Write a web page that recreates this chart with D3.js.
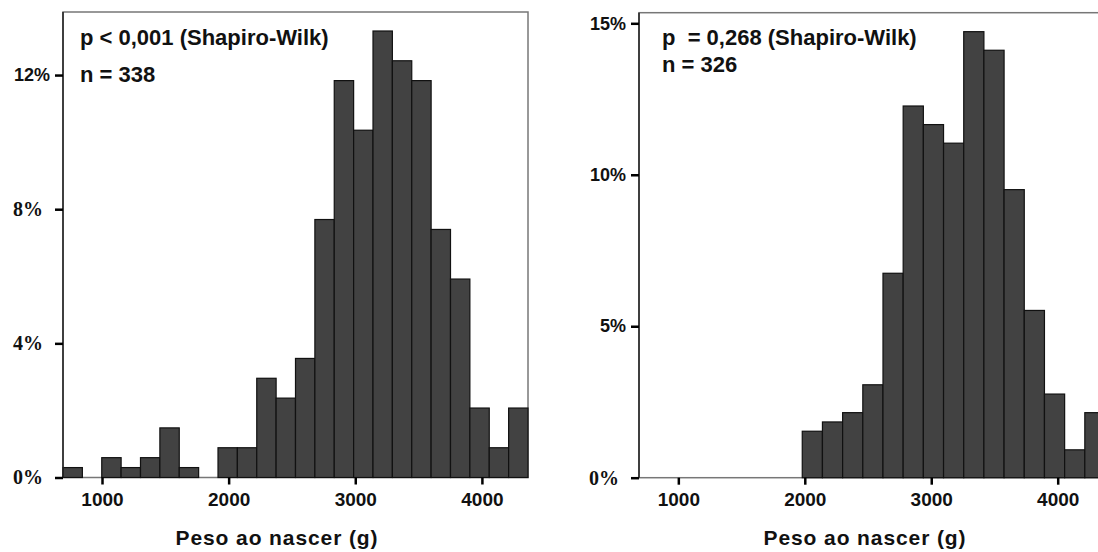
<!DOCTYPE html>
<html>
<head>
<meta charset="utf-8">
<script src="https://cdn.jsdelivr.net/npm/d3@7"></script>
<style>
  body { margin: 0; background: #fff; }
  text { font-family: "Liberation Sans", Arial, sans-serif; }
</style>
</head>
<body>
<svg width="1098" height="552"></svg>
<script>
// Data (counts per bin)
var leftCounts = [1, 0, 2, 1, 2, 5, 1, 0, 3, 3, 10, 8, 12, 26, 40, 35, 45, 42, 40, 25, 20, 7, 3, 7];
var leftN = 338;
var leftBinStart = 692, leftBinWidth = 153;
var leftPText = "p < 0,001 (Shapiro-Wilk)";
var leftNText = "n = 338";
var leftYTicks = [0, 4, 8, 12];

var rightCounts = [5, 6, 7, 10, 22, 40, 38, 36, 48, 46, 31, 18, 9, 3, 7];
var rightN = 326;
var rightBinStart = 1980, rightBinWidth = 159.6;
var rightPText = "p  = 0,268 (Shapiro-Wilk)";
var rightNText = "n = 326";
var rightYTicks = [0, 5, 10, 15];

var xTicks = [1000, 2000, 3000, 4000];
var xLabel = "Peso ao nascer (g)";

var svg = d3.select("svg");

function panel(opt) {
    var g = svg.append("g");

    var x = d3.scaleLinear().domain(opt.xDomain).range([opt.left, opt.right]);
    var y = d3.scaleLinear().domain(opt.yDomain).range([opt.bottom, opt.top]);

    var bins = opt.counts.map(function (c, i) {
        return { x0: opt.binStart + i * opt.binWidth, x1: opt.binStart + (i + 1) * opt.binWidth, pct: c / opt.n * 100 };
    });

    // frame
    g.append("rect")
        .attr("x", opt.left).attr("y", opt.top)
        .attr("width", opt.right - opt.left).attr("height", opt.bottom - opt.top)
        .attr("fill", "none").attr("stroke", "#777").attr("stroke-width", 1.5);

    // bars
    g.selectAll("rect.bar")
        .data(bins.filter(function (d) { return d.pct > 0; }))
        .enter().append("rect")
        .attr("class", "bar")
        .attr("x", function (d) { return x(d.x0); })
        .attr("width", function (d) { return x(d.x1) - x(d.x0); })
        .attr("y", function (d) { return y(d.pct); })
        .attr("height", function (d) { return y(0) - y(d.pct); })
        .attr("fill", "#424242")
        .attr("stroke", "#111")
        .attr("stroke-width", 1.2);

    // left axis line
    g.append("line")
        .attr("x1", opt.left).attr("x2", opt.left)
        .attr("y1", opt.top).attr("y2", opt.bottom)
        .attr("stroke", "#222").attr("stroke-width", 1.5);

    // y axis
    var isSerif = function (d) { return opt.serifTicks.indexOf(d) >= 0; };
    var yAxis = g.append("g")
        .attr("transform", "translate(" + opt.left + ",0)")
        .call(d3.axisLeft(y).tickValues(opt.yTicks).tickSize(8).tickPadding(6)
            .tickFormat(function (d) { return d + "%"; }));
    yAxis.select(".domain").remove();
    yAxis.selectAll(".tick line").attr("stroke", "#000").attr("stroke-width", 2.5);
    yAxis.selectAll(".tick text")
        .attr("fill", "#111")
        .style("font-weight", "bold")
        .style("font-family", function (d) { return isSerif(d) ? "'Liberation Serif', serif" : "'Liberation Sans', Arial, sans-serif"; })
        .style("font-size", function (d) { return isSerif(d) ? "20px" : "18px"; })
        .attr("x", function (d) { return isSerif(d) ? -20 : -13; });

    // x axis
    var xAxis = g.append("g")
        .attr("transform", "translate(0," + opt.bottom + ")")
        .call(d3.axisBottom(x).tickValues(xTicks).tickSize(7).tickPadding(8)
            .tickFormat(d3.format("d")));
    xAxis.select(".domain").remove();
    xAxis.selectAll(".tick line").attr("stroke", "#000").attr("stroke-width", 2.5);
    xAxis.selectAll(".tick text")
        .attr("fill", "#111")
        .style("font-weight", "bold")
        .style("font-size", "19px");

    // x label
    g.append("text")
        .attr("x", opt.labelX).attr("y", 545)
        .attr("text-anchor", "middle")
        .style("font-weight", "bold")
        .style("font-size", "21px")
        .style("letter-spacing", "0.9px")
        .attr("fill", "#111")
        .text(xLabel);

    // annotations
    g.append("text")
        .attr("x", opt.left + opt.noteDx).attr("y", 45)
        .style("font-weight", "bold").style("font-size", "22px")
        .style("white-space", "pre")
        .attr("fill", "#111")
        .text(opt.pText);
    g.append("text")
        .attr("x", opt.left + opt.noteDx).attr("y", opt.nY)
        .style("font-weight", "bold").style("font-size", "22px")
        .attr("fill", "#111")
        .text(opt.nText);
}

panel({
    counts: leftCounts, n: leftN, binStart: leftBinStart, binWidth: leftBinWidth,
    xDomain: [692, 4364], yDomain: [0, 13.88],
    left: 63, right: 528, top: 12, bottom: 477.5,
    yTicks: leftYTicks, serifTicks: [0, 4, 8],
    labelX: 277, noteDx: 17, nY: 82,
    pText: leftPText, nText: leftNText
});

panel({
    counts: rightCounts, n: rightN, binStart: rightBinStart, binWidth: rightBinWidth,
    xDomain: [689, 4374], yDomain: [0, 15.35],
    left: 639, right: 1105, top: 12.7, bottom: 477.7,
    yTicks: rightYTicks, serifTicks: [0],
    labelX: 865, noteDx: 23, nY: 72,
    pText: rightPText, nText: rightNText
});
</script>
</body>
</html>
